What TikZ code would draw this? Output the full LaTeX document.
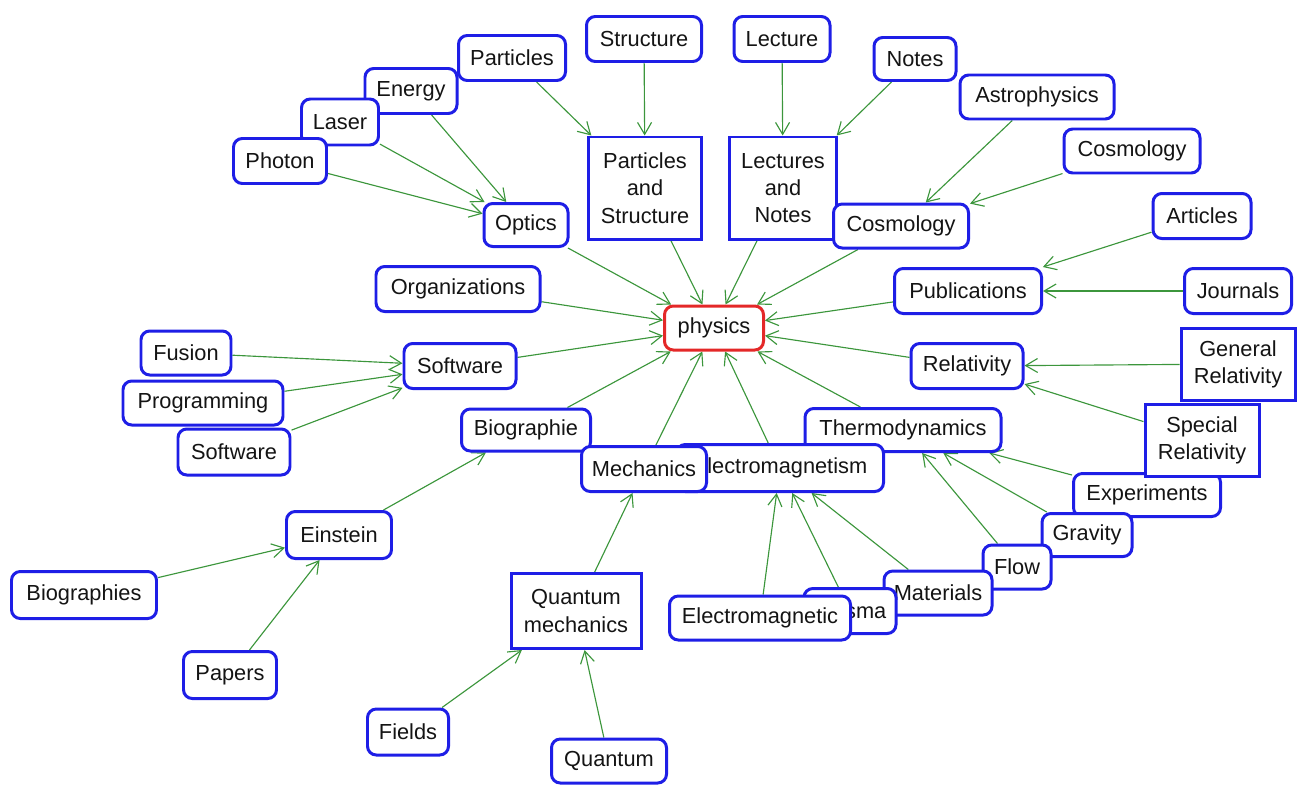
\documentclass[tikz,border=0pt]{standalone}
\usepackage{fontspec}
\setmainfont{Liberation Sans}
\usetikzlibrary{arrows.meta,backgrounds}
\definecolor{boxblue}{RGB}{30,30,230}
\definecolor{rootred}{RGB}{228,40,40}
\definecolor{linkgreen}{RGB}{60,150,60}

\begin{document}
\begin{tikzpicture}[
        x=0.02cm, y=-0.02cm, % 1 единица = 1 пиксель, ось y вниз
        cell/.style={draw=boxblue, line width=1.7pt, rounded corners=5pt, fill=white,
            text=black!92, inner sep=0pt, font=\fontsize{12.4}{15.5}\selectfont}, % Стиль узлов
        block/.style={cell, sharp corners, align=center}, % Узлы в несколько строк
        root/.style={cell, draw=rootred},
        wh/.style 2 args={minimum width=#1*0.02cm, minimum height=#2*0.02cm},
        link/.style={draw=linkgreen, line width=0.65pt, -{Straight Barb[length=2.4mm, width=2.8mm]}},
    ]
    \useasboundingbox (0,0) rectangle (1304,785);

    \node[root, wh={99}{44}] (physics) at (714,328) {physics};

    % Левый верхний угол
    \node[cell, wh={107}{45}] (particles) at (512,58) {Particles};
    \node[cell, wh={92}{45}] (energy) at (411,91) {Energy};
    \node[cell, wh={77}{46}] (laser) at (340,122) {Laser};
    \node[cell, wh={93}{45}] (photon) at (280,161) {Photon};
    \node[cell, wh={84}{43}] (optics) at (526,225) {Optics};

    % Верх
    \node[cell, wh={115}{45}] (structure) at (644,39) {Structure};
    \node[cell, wh={96}{45}] (lecture) at (782,39) {Lecture};
    \node[block, wh={113}{102}] (partstruct) at (645,188) {Particles\\and\\Structure};
    \node[block, wh={107}{102}] (lectnotes) at (783,188) {Lectures\\and\\Notes};
    \node[cell, wh={82}{43}] (notes) at (915,59) {Notes};
    \node[cell, wh={154}{44}] (astro) at (1037,97) {Astrophysics};
    \node[cell, wh={136}{44}] (cosmotop) at (1132,151) {Cosmology};
    \node[cell, wh={135}{44}] (cosmo) at (901,226) {Cosmology};

    % Правая сторона
    \node[cell, wh={98}{45}] (articles) at (1202,216) {Articles};
    \node[cell, wh={147}{45}] (publ) at (968,291) {Publications};
    \node[cell, wh={107}{45}] (journals) at (1238,291) {Journals};
    \node[block, wh={114}{72}] (genrel) at (1238,364) {General\\Relativity};
    \node[cell, wh={112}{45}] (relat) at (967,366) {Relativity};
    \node[cell, wh={147}{43}] (experim) at (1147,495) {Experiments};
    \node[block, wh={114}{72}] (specrel) at (1202,440) {Special\\Relativity};

    % Правый нижний угол
    \node[cell, wh={196}{43}] (thermo) at (903,430) {Thermodynamics};
    \node[cell, wh={90}{43}] (gravity) at (1087,535) {Gravity};
    \node[cell, wh={68}{44}] (flow) at (1017,567) {Flow};
    \node[cell, wh={108}{44}] (materials) at (938,593) {Materials};
    \node[cell, wh={92}{45}] (plasma) at (850,611) {Plasma};
    \node[cell, wh={181}{44}] (emtic) at (760,618) {Electromagnetic};

    % Низ
    \node[cell, wh={129}{42}] (biographie) at (526,430) {Biographie};
    \node[cell, wh={207}{47}] (emism) at (780,468) {Electromagnetism};
    \node[cell, wh={125}{45}] (mechanics) at (644,469) {Mechanics};
    \node[block, wh={130}{75}] (quantmech) at (576,611) {Quantum\\mechanics};
    \node[cell, wh={81}{46}] (fields) at (408,732) {Fields};
    \node[cell, wh={115}{44}] (quantum) at (609,761) {Quantum};

    % Левая сторона
    \node[cell, wh={164}{45}] (organiz) at (458,289) {Organizations};
    \node[cell, wh={112}{45}] (software) at (460,366) {Software};
    \node[cell, wh={90}{44}] (fusion) at (186,353) {Fusion};
    \node[cell, wh={160}{44}] (programming) at (203,403) {Programming};
    \node[cell, wh={112}{46}] (softleft) at (234,452) {Software};
    \node[cell, wh={105}{47}] (einstein) at (339,535) {Einstein};
    \node[cell, wh={145}{47}] (biographies) at (84,595) {Biographies};
    \node[cell, wh={93}{47}] (papers) at (230,675) {Papers};

    % Стрелки под узлами
    \begin{scope}[on background layer]
        \draw[link] (photon) -- (optics);
        \draw[link] (laser) -- (optics);
        \draw[link] (energy) -- (optics);
        \draw[link] (particles) -- (partstruct);
        \draw[link] (structure) -- (partstruct);
        \draw[link] (lecture) -- (lectnotes);
        \draw[link] (notes) -- (lectnotes);
        \draw[link] (astro) -- (cosmo);
        \draw[link] (cosmotop) -- (cosmo);
        \draw[link] (articles) -- (publ);
        \draw[link] (journals) -- (publ);
        \draw[link] (genrel) -- (relat);
        \draw[link] (specrel) -- (relat);
        \draw[link] (experim) -- (thermo);
        \draw[link] (gravity) -- (thermo);
        \draw[link] (flow) -- (thermo);
        \draw[link] (materials) -- (emism);
        \draw[link] (plasma) -- (emism);
        \draw[link] (emtic) -- (emism);
        \draw[link] (quantum) -- (quantmech);
        \draw[link] (fields) -- (quantmech);
        \draw[link] (quantmech) -- (mechanics);
        \draw[link] (papers) -- (einstein);
        \draw[link] (biographies) -- (einstein);
        \draw[link] (einstein) -- (biographie);
        \draw[link] (fusion) -- (software);
        \draw[link] (programming) -- (software);
        \draw[link] (softleft) -- (software);
        % к корню
        \draw[link] (optics) -- (physics);
        \draw[link] (partstruct) -- (physics);
        \draw[link] (lectnotes) -- (physics);
        \draw[link] (cosmo) -- (physics);
        \draw[link] (publ) -- (physics);
        \draw[link] (relat) -- (physics);
        \draw[link] (thermo) -- (physics);
        \draw[link] (emism) -- (physics);
        \draw[link] (mechanics) -- (physics);
        \draw[link] (biographie) -- (physics);
        \draw[link] (software) -- (physics);
        \draw[link] (organiz) -- (physics);
    \end{scope}
\end{tikzpicture}
\end{document}
